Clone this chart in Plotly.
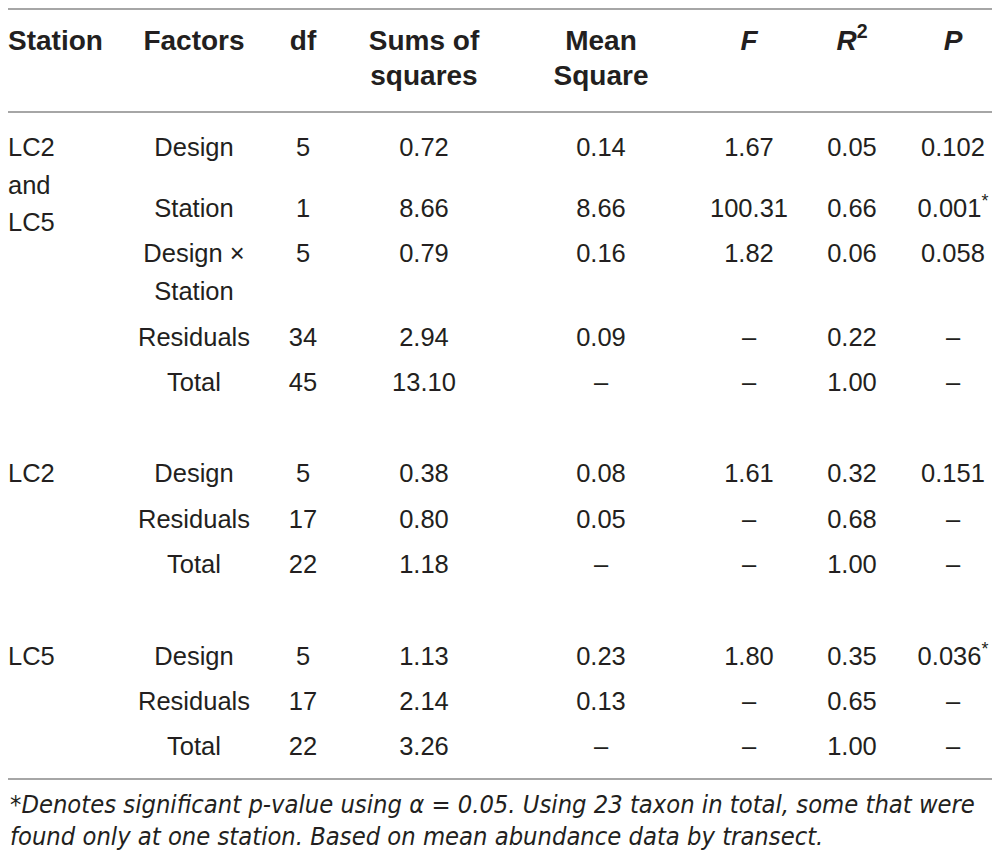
import plotly.graph_objects as go

# table content, one list per column
headers = ["Station", "Factors", "df", "Sums of\nsquares", "Mean\nSquare",
           "<i>F</i>", "<i>R</i><sup>2</sup>", "<i>P</i>"]
stations = ["LC2\nand\nLC5", "", "", "", "", "LC2", "", "", "LC5", "", ""]
factors = ["Design", "Station", "Design ×\nStation", "Residuals", "Total",
           "Design", "Residuals", "Total",
           "Design", "Residuals", "Total"]
dfree = ["5", "1", "5", "34", "45", "5", "17", "22", "5", "17", "22"]
sums_sq = ["0.72", "8.66", "0.79", "2.94", "13.10", "0.38", "0.80", "1.18",
           "1.13", "2.14", "3.26"]
mean_sq = ["0.14", "8.66", "0.16", "0.09", "–", "0.08", "0.05", "–",
           "0.23", "0.13", "–"]
f_vals = ["1.67", "100.31", "1.82", "–", "–", "1.61", "–", "–", "1.80", "–", "–"]
r2_vals = ["0.05", "0.66", "0.06", "0.22", "1.00", "0.32", "0.68", "1.00",
           "0.35", "0.65", "1.00"]
p_vals = ["0.102", "0.001*", "0.058", "–", "–", "0.151", "–", "–",
          "0.036*", "–", "–"]
footnote = ["*Denotes significant p-value using α = 0.05. Using 23 taxon in total, some that were",
            "found only at one station. Based on mean abundance data by transect."]

columns = [stations, factors, dfree, sums_sq, mean_sq, f_vals, r2_vals, p_vals]

# layout in window pixels (page body has an 8px margin, so axes start at 8)
PAD = 8
COL_X = [8, 194, 303, 424, 601, 749, 852, 953]
ROW_Y = [147, 208, 253, 337, 382, 473, 519, 564, 656, 701, 746]
HEAD_Y = 40
HEAD_LINE = 35
BODY_LINE = 37.5
NUDGE = 3
RULES = [PAD + 1, 112, 779]
FOOT_Y = [804, 836]
TEXT = "#231f20"


def cell_points(values, x, ys, step):
    xs, yy, tt = [], [], []
    for v, y in zip(values, ys):
        for k, part in enumerate(v.split("\n")):
            if part == "":
                continue
            xs.append(x)
            yy.append(y + k * step + NUDGE)
            tt.append(part.replace("*", "<sup>*</sup>"))
    return xs, yy, tt


fig = go.Figure()

for i, col in enumerate(columns):
    pos = "middle right" if i == 0 else "middle center"
    xs, ys, tt = cell_points(col, COL_X[i], ROW_Y, BODY_LINE)
    fig.add_trace(go.Scatter(x=xs, y=ys, text=tt, mode="text", textposition=pos,
                             cliponaxis=False,
                             textfont=dict(family="Liberation Sans", size=25.5, color=TEXT),
                             hoverinfo="skip", showlegend=False))

    hx, hy, ht = cell_points([headers[i]], COL_X[i], [HEAD_Y], HEAD_LINE)
    fig.add_trace(go.Scatter(x=hx, y=hy, text=["<b>" + t + "</b>" for t in ht],
                             mode="text", textposition=pos, cliponaxis=False,
                             textfont=dict(family="Liberation Sans", size=28, color=TEXT),
                             hoverinfo="skip", showlegend=False))

for y in RULES:
    fig.add_shape(type="line", x0=PAD, x1=994, y0=y, y1=y, xref="x", yref="y",
                  line=dict(color="#a6a6a6", width=2))

for y, line in zip(FOOT_Y, footnote):
    fig.add_annotation(x=0, y=y, xref="paper", yref="y", text=line,
                       showarrow=False, xanchor="left", yanchor="middle",
                       font=dict(family="DejaVu Sans Condensed, DejaVu Sans", size=25.3,
                                 color=TEXT, style="italic"))

fig.update_layout(
    width=1000, height=863,
    margin=dict(l=0, r=0, t=0, b=0),
    plot_bgcolor="white", paper_bgcolor="white",
    xaxis=dict(range=[PAD, 1000 + PAD], visible=False, fixedrange=True),
    yaxis=dict(range=[863 + PAD, PAD], visible=False, fixedrange=True),
)

fig.write_html("out.html")
